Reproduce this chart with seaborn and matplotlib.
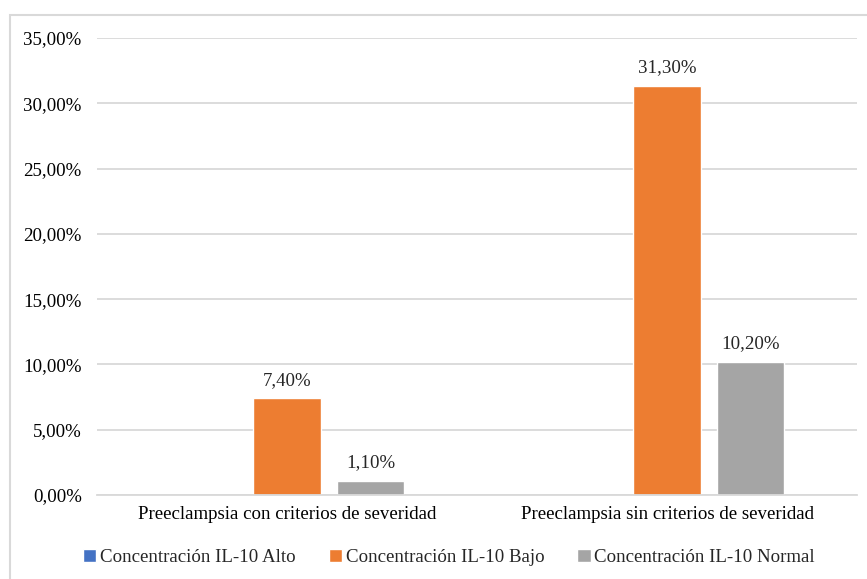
import matplotlib
matplotlib.use("Agg")
import matplotlib.pyplot as plt
from matplotlib.patches import Rectangle
from matplotlib.ticker import FuncFormatter, MultipleLocator
import pandas as pd
import seaborn as sns

# Data
categories = ["Preeclampsia con criterios de severidad",
              "Preeclampsia sin criterios de severidad"]
series = ["Concentración IL-10 Alto",
          "Concentración IL-10 Bajo",
          "Concentración IL-10 Normal"]
alto = [0.0, 0.0]
bajo = [7.40, 31.30]
normal = [1.10, 10.20]
colors = ["#4472C4", "#ED7D31", "#A5A5A5"]

rows = []
for s, vals in zip(series, [alto, bajo, normal]):
    for c, v in zip(categories, vals):
        rows.append({"Categoria": c, "Serie": s, "Valor": v})
df = pd.DataFrame(rows)

sns.set_theme(style="white")
plt.rcParams["font.family"] = ["Liberation Serif", "DejaVu Serif"]

FS = 13.6

def pct(v, _=None):
    return f"{v:.2f}".replace(".", ",") + "%"

fig = plt.figure(figsize=(8.67, 5.79), dpi=100)
ax = fig.add_axes([0.1119, 0.1451, 0.8766, 0.7893])

sns.barplot(data=df, x="Categoria", y="Valor", hue="Serie",
            order=categories, hue_order=series, palette=colors,
            width=0.66, gap=0.19, saturation=1, ax=ax, legend=True)

ax.set_xlim(-0.5, 1.5)
ax.set_ylim(0, 35)
ax.yaxis.set_major_locator(MultipleLocator(5))
ax.yaxis.set_major_formatter(FuncFormatter(pct))
ax.grid(axis="y", color="#D9D9D9", linewidth=1.3)
ax.set_axisbelow(True)
for side in ["top", "right", "left"]:
    ax.spines[side].set_visible(False)
ax.spines["bottom"].set_color("#D9D9D9")
ax.spines["bottom"].set_linewidth(1.3)
ax.tick_params(axis="both", length=0, labelsize=FS, colors="black")
ax.tick_params(axis="y", pad=11)
ax.tick_params(axis="x", pad=8)
ax.set_xlabel("")
ax.set_ylabel("")

# Value labels on the visible bars
for container in ax.containers:
    labels = [pct(b.get_height()) if b.get_height() > 0 else "" for b in container]
    ax.bar_label(container, labels=labels, padding=7, fontsize=FS)

# Legend along the bottom
handles, labs = ax.get_legend_handles_labels()
ax.get_legend().remove()
fig.legend(handles, labs, loc="center", bbox_to_anchor=(0.518, 0.037), ncol=3,
           frameon=False, fontsize=FS, handlelength=0.7, handleheight=0.7,
           handletextpad=0.2, columnspacing=1.75)

# Chart frame
fig.patches.append(Rectangle((0.0115, -0.1), 1.2, 1.074, transform=fig.transFigure,
                             fill=False, edgecolor="#D9D9D9", linewidth=1.5))

fig.savefig("out.png", dpi=100)
